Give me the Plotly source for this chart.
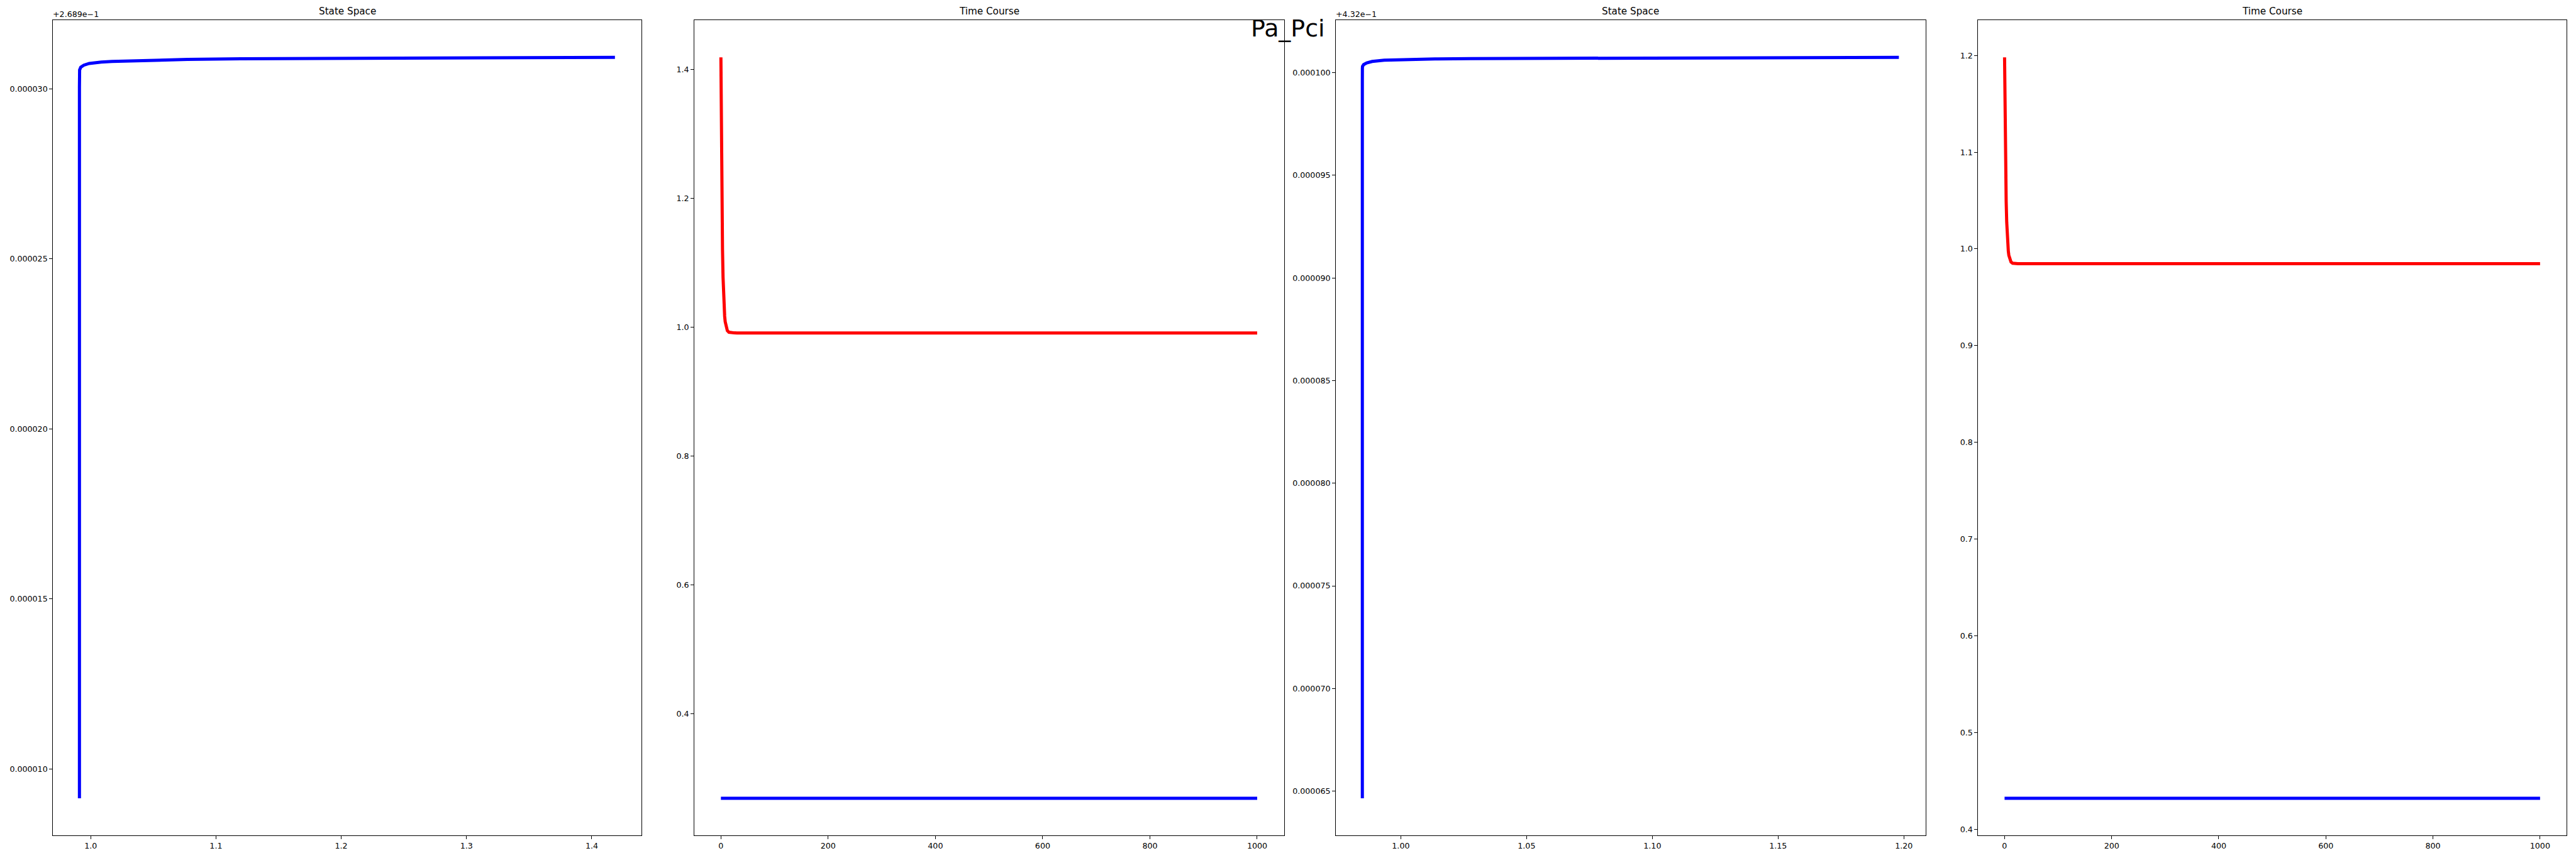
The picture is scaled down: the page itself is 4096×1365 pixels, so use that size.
import plotly.graph_objects as go

# ---------------- data ----------------
t = [0, 0.5, 1, 1.5, 2, 3, 4, 5, 6, 7, 8, 10, 12, 15, 20, 25, 30, 50,
     100, 200, 300, 400, 500, 600, 700, 800, 900, 1000]

# Pa system: first variable (red), second variable (blue) = offset + delta*1e-6
pa_x = [1.4185, 1.3410, 1.2776, 1.2256, 1.1831, 1.1198, 1.0773, 1.0489,
        1.0298, 1.0170, 1.0084, 0.9988, 0.9945, 0.99206, 0.99114, 0.99102,
        0.9910, 0.9910, 0.9910, 0.9910, 0.9910, 0.9910, 0.9910, 0.9910,
        0.9910, 0.9910, 0.9910, 0.9910]
pa_offset = 0.2689
pa_dy = [30.93, 30.925, 30.92, 30.912, 30.905, 30.89, 30.87, 30.85, 30.83,
         30.81, 30.79, 30.75, 30.70, 30.64, 30.56, 30.48, 30.40, 30.05,
         29.1, 27.1, 25.0, 22.9, 20.8, 18.7, 16.6, 14.3, 11.8, 9.13]

# Pci system
pci_x = [1.1980, 1.1593, 1.1277, 1.1018, 1.0805, 1.0489, 1.0278, 1.0136,
         1.0040, 0.9977, 0.9934, 0.9886, 0.98646, 0.98523, 0.98477, 0.98472,
         0.9847, 0.9847, 0.9847, 0.9847, 0.9847, 0.9847, 0.9847, 0.9847,
         0.9847, 0.9847, 0.9847, 0.9847]
pci_offset = 0.432
pci_dy = [100.74, 100.735, 100.73, 100.722, 100.715, 100.70, 100.68, 100.66,
          100.64, 100.62, 100.60, 100.54, 100.47, 100.39, 100.30, 100.20,
          100.10, 99.6, 98.2, 94.8, 91.3, 87.7, 84.0, 80.3, 76.5, 72.6,
          68.7, 64.65]

pa_ss_yticks = [10, 15, 20, 25, 30]            # x1e-6 above offset
pci_ss_yticks = [65, 70, 75, 80, 85, 90, 95, 100]

suptitle = "Pa_Pci"
panel_titles = ["State Space", "Time Course", "State Space", "Time Course"]
offset_labels = ["+2.689e\u22121", "+4.32e\u22121"]

# ---------------- figure ----------------
W, H = 4096, 1365
FONT = "DejaVu Sans"
LW = 5

pa_y = [pa_offset + d * 1e-6 for d in pa_dy]
pci_y = [pci_offset + d * 1e-6 for d in pci_dy]


def padded(vals):
    lo, hi = min(vals), max(vals)
    m = 0.05 * (hi - lo)
    return [lo - m, hi + m]


x_dom = [[92 / 4500, 1121 / 4500], [1212.5 / 4500, 2243 / 4500],
         [2333 / 4500, 3364 / 4500], [3455 / 4500, 4484 / 4500]]
y_dom = [1 - 1460.5 / 1500, 1 - 35.5 / 1500]

fig = go.Figure()

fig.add_trace(go.Scatter(x=pa_x, y=pa_y, mode="lines", line=dict(color="#0000ff", width=LW),
                         xaxis="x", yaxis="y"))
fig.add_trace(go.Scatter(x=t, y=pa_x, mode="lines", line=dict(color="#ff0000", width=LW),
                         xaxis="x2", yaxis="y2"))
fig.add_trace(go.Scatter(x=t, y=pa_y, mode="lines", line=dict(color="#0000ff", width=LW),
                         xaxis="x2", yaxis="y2"))
fig.add_trace(go.Scatter(x=pci_x, y=pci_y, mode="lines", line=dict(color="#0000ff", width=LW),
                         xaxis="x3", yaxis="y3"))
fig.add_trace(go.Scatter(x=t, y=pci_x, mode="lines", line=dict(color="#ff0000", width=LW),
                         xaxis="x4", yaxis="y4"))
fig.add_trace(go.Scatter(x=t, y=pci_y, mode="lines", line=dict(color="#0000ff", width=LW),
                         xaxis="x4", yaxis="y4"))

common = dict(showline=True, linecolor="black", linewidth=1, mirror=True,
              ticks="outside", ticklen=4.5, tickwidth=1, tickcolor="black",
              showgrid=False, zeroline=False,
              tickfont=dict(family=FONT, size=12.65, color="black"))

layout = dict(width=W, height=H, margin=dict(l=0, r=0, t=0, b=0),
              paper_bgcolor="white", plot_bgcolor="white", showlegend=False)

# panel 1
layout["xaxis"] = dict(domain=x_dom[0], anchor="y", range=padded(pa_x), dtick=0.1,
                       tick0=0, tickformat=".1f", **common)
layout["yaxis"] = dict(domain=y_dom, anchor="x", range=padded(pa_y),
                       tickvals=[pa_offset + v * 1e-6 for v in pa_ss_yticks],
                       ticktext=["%.6f" % (v * 1e-6) for v in pa_ss_yticks], **common)
# panel 2
layout["xaxis2"] = dict(domain=x_dom[1], anchor="y2", range=padded(t), dtick=200,
                        tick0=0, **common)
layout["yaxis2"] = dict(domain=y_dom, anchor="x2", range=padded(pa_x + pa_y), dtick=0.2,
                        tick0=0, tickformat=".1f", **common)
# panel 3
layout["xaxis3"] = dict(domain=x_dom[2], anchor="y3", range=padded(pci_x), dtick=0.05,
                        tick0=0, tickformat=".2f", **common)
layout["yaxis3"] = dict(domain=y_dom, anchor="x3", range=padded(pci_y),
                        tickvals=[pci_offset + v * 1e-6 for v in pci_ss_yticks],
                        ticktext=["%.6f" % (v * 1e-6) for v in pci_ss_yticks], **common)
# panel 4
layout["xaxis4"] = dict(domain=x_dom[3], anchor="y4", range=padded(t), dtick=200,
                        tick0=0, **common)
layout["yaxis4"] = dict(domain=y_dom, anchor="x4", range=padded(pci_x + pci_y), dtick=0.1,
                        tick0=0, tickformat=".1f", **common)

fig.update_layout(**layout)

ann = []
for i, title in enumerate(panel_titles):
    ann.append(dict(text=title, xref="paper", yref="paper",
                    x=(x_dom[i][0] + x_dom[i][1]) / 2, y=y_dom[1],
                    xanchor="center", yanchor="bottom", yshift=3, showarrow=False,
                    font=dict(family=FONT, size=15.2, color="black")))
for i, lab in zip([0, 2], offset_labels):
    ann.append(dict(text=lab, xref="paper", yref="paper", x=x_dom[i][0], y=y_dom[1],
                    xanchor="left", yanchor="bottom", yshift=0, xshift=-2, showarrow=False,
                    font=dict(family=FONT, size=12.65, color="black")))
ann.append(dict(text=suptitle, xref="paper", yref="paper", x=0.5, y=1 - 21 / H,
                xanchor="center", yanchor="top", showarrow=False,
                font=dict(family=FONT, size=37.9, color="black")))
fig.update_layout(annotations=ann)

fig.write_html("out.html")
